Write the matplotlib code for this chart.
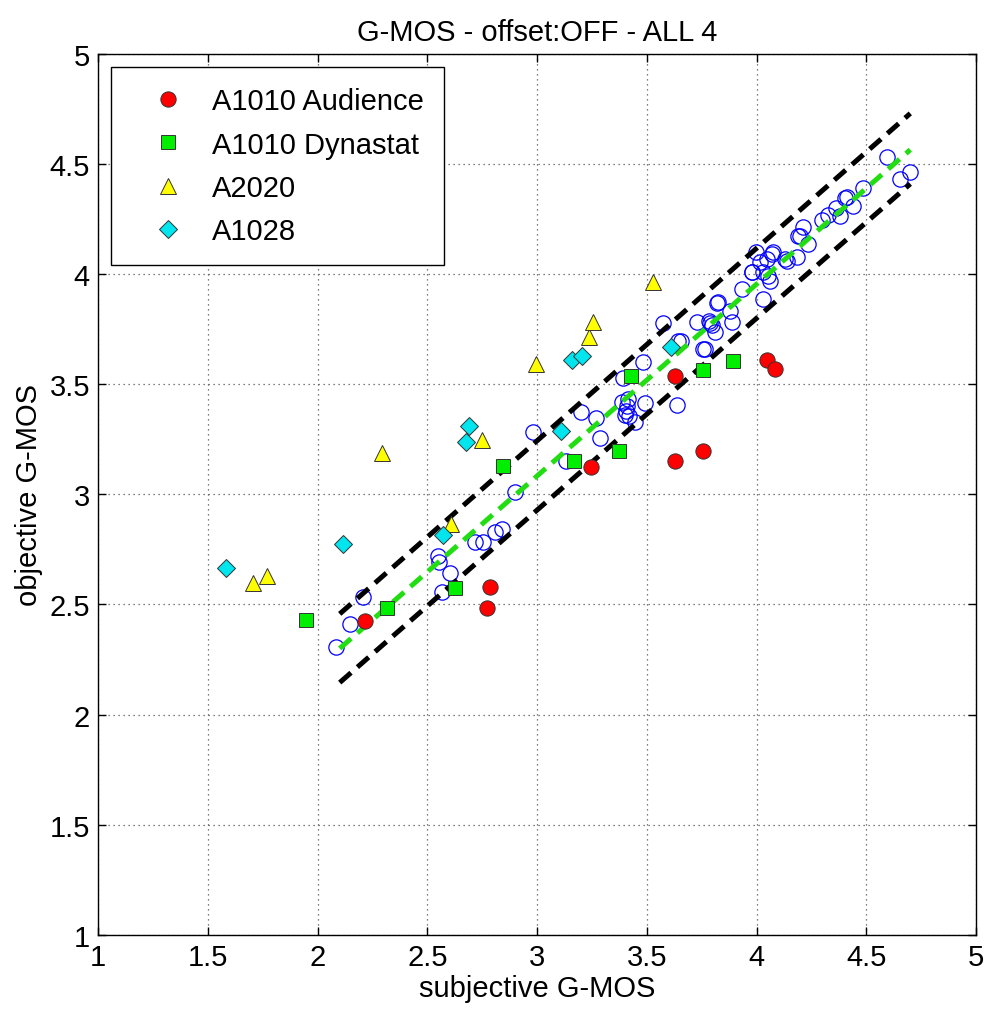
import numpy as np
import matplotlib.pyplot as plt

plt.rcParams['font.family'] = ['Liberation Sans', 'DejaVu Sans']

# subjective / objective G-MOS per set
aud_x = [2.215, 2.769, 2.785, 3.243, 3.627, 3.627, 3.756, 4.047, 4.083]
aud_y = [2.426, 2.484, 2.579, 3.125, 3.539, 3.153, 3.198, 3.610, 3.569]

dyn_x = [1.948, 2.314, 2.625, 2.842, 3.167, 3.374, 3.426, 3.756, 3.890]
dyn_y = [2.429, 2.482, 2.575, 3.127, 3.153, 3.195, 3.539, 3.566, 3.605]

a20_x = [1.703, 1.767, 2.291, 2.605, 2.747, 2.994, 3.237, 3.252, 3.528]
a20_y = [2.595, 2.630, 3.186, 2.864, 3.248, 3.592, 3.713, 3.781, 3.966]

a28_x = [1.580, 2.116, 2.572, 2.674, 2.690, 3.108, 3.157, 3.202, 3.608]
a28_y = [2.665, 2.774, 2.815, 3.239, 3.309, 3.286, 3.611, 3.630, 3.670]

train_x = [2.083, 2.147, 2.207, 2.549, 2.552, 2.602, 2.564, 2.716, 2.751, 2.807,
           2.838, 2.898, 2.982, 3.199, 3.267, 3.286, 3.131, 3.385, 3.415, 3.404,
           3.491, 3.445, 3.635, 3.574, 3.726, 3.784, 3.817, 3.642, 3.756, 3.483,
           3.392, 3.809, 3.826, 3.878, 3.886, 3.931, 4.015, 4.068, 3.977, 4.052,
           4.030, 4.128, 4.182, 4.235, 4.189, 3.999, 4.060, 4.592, 4.652, 4.698,
           4.485, 4.402, 4.440, 4.379, 4.326, 4.296, 4.209, 4.197, 4.136, 4.075,
           4.045, 4.030, 3.410, 3.420, 3.789, 3.400, 3.795, 4.410, 3.980, 4.360,
           3.656, 3.764]
train_y = [2.308, 2.411, 2.532, 2.721, 2.691, 2.643, 2.558, 2.782, 2.782, 2.827,
           2.842, 3.009, 3.284, 3.375, 3.346, 3.254, 3.153, 3.418, 3.433, 3.380,
           3.415, 3.327, 3.406, 3.778, 3.784, 3.788, 3.869, 3.697, 3.660, 3.602,
           3.527, 3.736, 3.872, 3.834, 3.781, 3.932, 4.054, 4.091, 4.008, 3.993,
           3.887, 4.068, 4.076, 4.137, 4.174, 4.099, 3.970, 4.530, 4.432, 4.465,
           4.390, 4.344, 4.308, 4.265, 4.268, 4.247, 4.213, 4.172, 4.061, 4.099,
           4.069, 4.008, 3.400, 3.355, 3.780, 3.360, 3.770, 4.350, 4.010, 4.300,
           3.697, 3.660]

# regression line and bounds
fit_x = [2.1, 4.7]
fit_y = [2.30, 4.565]
upper_y = [2.457, 4.73]
lower_y = [2.145, 4.41]

ticks = [1, 1.5, 2, 2.5, 3, 3.5, 4, 4.5, 5]
tick_labels = ['1', '1.5', '2', '2.5', '3', '3.5', '4', '4.5', '5']

fig = plt.figure(figsize=(9.88, 10.12), dpi=100)
ax = fig.add_axes([0.0995, 0.0754, 0.8885, 0.8703])

ax.plot(train_x, train_y, 'o', mfc='none', mec='#0000ff', mew=0.9, ms=11, zorder=3)
ax.plot(fit_x, upper_y, color='black', lw=3.6, dashes=(3, 1.7), zorder=4)
ax.plot(fit_x, lower_y, color='black', lw=3.6, dashes=(3, 1.7), zorder=4)
ax.plot(fit_x, fit_y, color='#22dd11', lw=3.6, dashes=(3, 1.7), zorder=4)

ax.plot(aud_x, aud_y, 'o', color='#ff0000', mec='#333333', mew=0.7, ms=11,
        ls='none', label='A1010 Audience', zorder=5)
ax.plot(dyn_x, dyn_y, 's', color='#00ee00', mec='#333333', mew=0.7, ms=10,
        ls='none', label='A1010 Dynastat', zorder=5)
ax.plot(a20_x, a20_y, '^', color='#ffff00', mec='#333333', mew=0.7, ms=11,
        ls='none', label='A2020', zorder=5)
ax.plot(a28_x, a28_y, 'D', color='#00e5ee', mec='#333333', mew=0.7, ms=9,
        ls='none', label='A1028', zorder=5)

ax.set_xlim(1, 5)
ax.set_ylim(1, 5)
ax.set_xticks(ticks)
ax.set_xticklabels(tick_labels)
ax.set_yticks(ticks)
ax.set_yticklabels(tick_labels)
ax.tick_params(direction='in', length=6, width=1, labelsize=21,
               top=True, right=True, pad=6)
ax.grid(True, color='#555555', lw=0.9, ls=(0, (1, 3)))
for s in ax.spines.values():
    s.set_linewidth(1)

ax.set_xlabel('subjective G-MOS', fontsize=21, labelpad=2)
ax.set_ylabel('objective G-MOS', fontsize=21, labelpad=5)
ax.set_title('G-MOS - offset:OFF - ALL 4', fontsize=21, pad=10)

leg = ax.legend(loc='upper left', fontsize=21, numpoints=1, fancybox=False,
                framealpha=1, edgecolor='black', handlelength=2.5,
                handletextpad=0.25, borderpad=0.7, labelspacing=0.52,
                borderaxespad=0.45)
leg.get_frame().set_linewidth(1)

fig.savefig('out.png', dpi=100)
